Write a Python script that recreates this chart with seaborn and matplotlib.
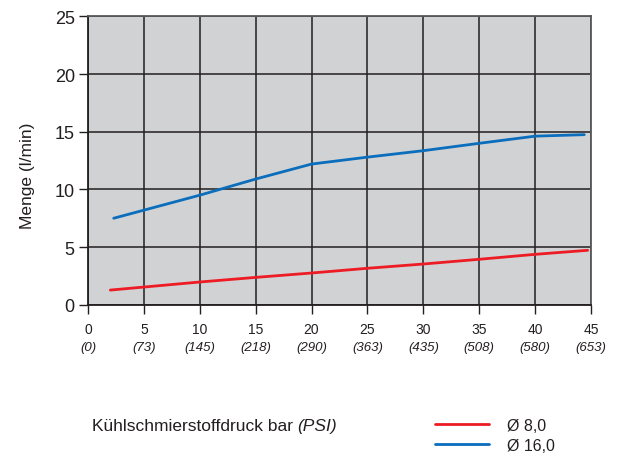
import matplotlib
matplotlib.use("Agg")
import matplotlib.pyplot as plt
from matplotlib.lines import Line2D
import seaborn as sns
import pandas as pd

# Flow rate curves (bar -> l/min) for two nozzle diameters
pressure_8 = [2.0, 10, 15, 20, 25, 30, 35, 40, 44.7]
flow_8 = [1.27, 1.97, 2.37, 2.75, 3.16, 3.53, 3.94, 4.37, 4.72]

pressure_16 = [2.3, 10, 15, 20, 25, 30, 35, 40, 44.4]
flow_16 = [7.5, 9.5, 10.9, 12.2, 12.8, 13.36, 14.0, 14.62, 14.75]

series_names = ["Ø 8,0", "Ø 16,0"]
series_colors = ["#ed1c24", "#0a6ebd"]

bar_ticks = [0, 5, 10, 15, 20, 25, 30, 35, 40, 45]
psi_labels = ["(0)", "(73)", "(145)", "(218)", "(290)", "(363)", "(435)", "(508)", "(580)", "(653)"]
y_ticks = [0, 5, 10, 15, 20, 25]

df = pd.concat([
    pd.DataFrame({"bar": pressure_8, "flow": flow_8, "d": series_names[0]}),
    pd.DataFrame({"bar": pressure_16, "flow": flow_16, "d": series_names[1]}),
])

sns.set_style("ticks")
plt.rcParams["font.family"] = ["Liberation Sans", "DejaVu Sans"]
ink = "#231f20"

fig = plt.figure(figsize=(6.25, 4.6), dpi=100)
ax = fig.add_axes([0.1408, 0.3354, 0.8048, 0.6266])
ax.set_facecolor("#d1d2d4")

sns.lineplot(data=df, x="bar", y="flow", hue="d", palette=dict(zip(series_names, series_colors)),
             linewidth=2.0, legend=False, ax=ax, zorder=3, sort=False)

ax.set_xlim(0, 45)
ax.set_ylim(0, 25)
ax.set_xticks(bar_ticks)
ax.set_xticklabels([str(t) for t in bar_ticks], fontsize=10, color=ink)
ax.set_yticks(y_ticks)
ax.set_yticklabels([str(t) for t in y_ticks], fontsize=13, color=ink)
ax.tick_params(axis="both", direction="out", length=6.5, width=1.0, color=ink)
ax.tick_params(axis="x", pad=6)
ax.tick_params(axis="y", pad=3)

ax.grid(True, color=ink, linewidth=1.1, zorder=1)
ax.set_axisbelow(True)
for side in ["left", "bottom", "top", "right"]:
    ax.spines[side].set_visible(True)
    ax.spines[side].set_color(ink)
    ax.spines[side].set_linewidth(1.3)
ax.spines["top"].set_color("#58595b")
ax.spines["right"].set_color("#58595b")

ax.set_xlabel("")
ax.set_ylabel("Menge (l/min)", fontsize=12.5, color=ink)
ax.yaxis.set_label_coords(-0.106, 0.45)

# PSI equivalents below the bar tick labels
for t, lab in zip(bar_ticks, psi_labels):
    ax.text(t, -0.147, lab, transform=ax.get_xaxis_transform(), ha="center", va="center",
            fontsize=9.5, style="italic", color=ink)

# Axis title: upright unit followed by italic PSI
title_y = 1 - 427 / 460
t1 = fig.text(92 / 625, title_y, "Kühlschmierstoffdruck bar", fontsize=12.5, color=ink,
              ha="left", va="center")
fig.canvas.draw()
bb = t1.get_window_extent(renderer=fig.canvas.get_renderer())
fig.text((bb.x1 + 4) / fig.bbox.width, title_y, "(PSI)", fontsize=12.5, color=ink,
         style="italic", ha="left", va="center")

handles = [Line2D([], [], color=c, linewidth=2.0) for c in series_colors]
fig.legend(handles, series_names, loc="upper left", bbox_to_anchor=(435 / 625, 1 - 419 / 460),
           frameon=False, fontsize=11.5, handlelength=3.4, handletextpad=1.1,
           labelspacing=0.3, borderpad=0, borderaxespad=0, labelcolor=ink)

fig.savefig("out.png", dpi=100)
